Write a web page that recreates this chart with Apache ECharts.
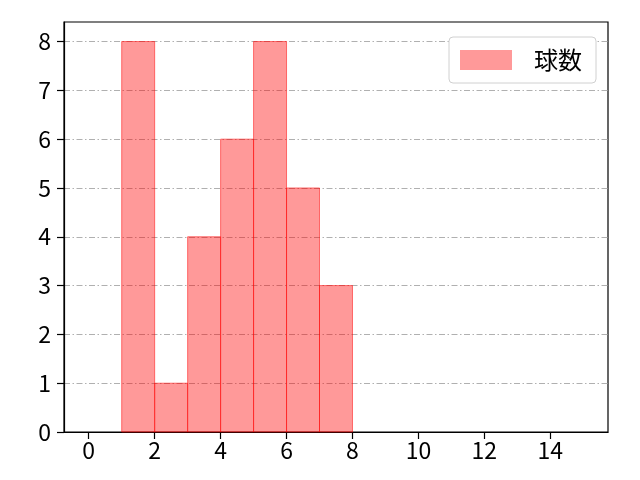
<!DOCTYPE html>
<html>
<head>
<meta charset="utf-8">
<style>
  html, body { margin: 0; padding: 0; background: #fff; }
  #chart { width: 640px; height: 480px; }
</style>
</head>
<body>
<div id="chart"></div>
<script src="https://cdn.jsdelivr.net/npm/echarts@6/dist/echarts.min.js"></script>
<script>
// histogram bins (left edge, right edge) and counts
var binStart = [1, 2, 3, 4, 5, 6, 7];
var binEnd = [2, 3, 4, 5, 6, 7, 8];
var counts = [8, 1, 4, 6, 8, 5, 3];
var seriesName = '球数';
var xTicks = [0, 2, 4, 6, 8, 10, 12, 14];
var yTicks = [0, 1, 2, 3, 4, 5, 6, 7, 8];

var font = '"Noto Sans CJK JP", "Noto Sans", sans-serif';

var data = [];
for (var i = 0; i < counts.length; i++) {
    data.push([binStart[i], binEnd[i], counts[i]]);
}

var chart = echarts.init(document.getElementById('chart'));
chart.setOption({
    animation: false,
    backgroundColor: '#fff',
    grid: {
        left: 64, right: 32, top: 22, bottom: 48,
        show: true, borderColor: '#000', borderWidth: 1.2, backgroundColor: 'transparent'
    },
    legend: {
        right: 44, top: 37,
        data: [{ name: seriesName, icon: 'rect' }],
        itemWidth: 52, itemHeight: 20,
        padding: [11, 14, 11, 11],
        backgroundColor: '#fff',
        borderColor: '#d0d0d0', borderWidth: 1, borderRadius: 4,
        textStyle: { fontFamily: font, fontSize: 24, lineHeight: 24, color: '#000', padding: [0, 0, 0, 17] }
    },
    xAxis: {
        type: 'value',
        min: -0.75, max: 15.75,
        axisLine: { show: true, onZero: false, lineStyle: { color: '#000', width: 1.2 } },
        axisTick: { show: true, length: 7, customValues: xTicks, lineStyle: { color: '#000', width: 1.2 } },
        axisLabel: { customValues: xTicks, fontFamily: font, fontSize: 23, color: '#000', margin: 7 },
        splitLine: { show: false }
    },
    yAxis: {
        type: 'value',
        min: 0, max: 8.4,
        axisLine: { show: true, onZero: false, lineStyle: { color: '#000', width: 1.2 } },
        axisTick: { show: true, length: 7, customValues: yTicks, lineStyle: { color: '#000', width: 1.2 } },
        axisLabel: { customValues: yTicks, fontFamily: font, fontSize: 23, color: '#000', margin: 13 },
        splitLine: {
            show: true,
            customValues: yTicks,
            lineStyle: { color: '#b0b0b0', width: 1, type: [6, 2.5, 1.5, 2.5] }
        }
    },
    series: [{
        name: seriesName,
        type: 'custom',
        itemStyle: { color: 'rgba(255,0,0,0.4)' },
        renderItem: function (params, api) {
            var p0 = api.coord([api.value(0), api.value(2)]);
            var p1 = api.coord([api.value(1), 0]);
            return {
                type: 'rect',
                shape: { x: p0[0], y: p0[1], width: p1[0] - p0[0], height: p1[1] - p0[1] },
                style: { fill: 'rgba(255,0,0,0.4)', stroke: 'rgba(255,0,0,0.5)', lineWidth: 1 }
            };
        },
        encode: { x: [0, 1], y: 2 },
        data: data,
        z: 3
    }]
});
</script>
</body>
</html>
